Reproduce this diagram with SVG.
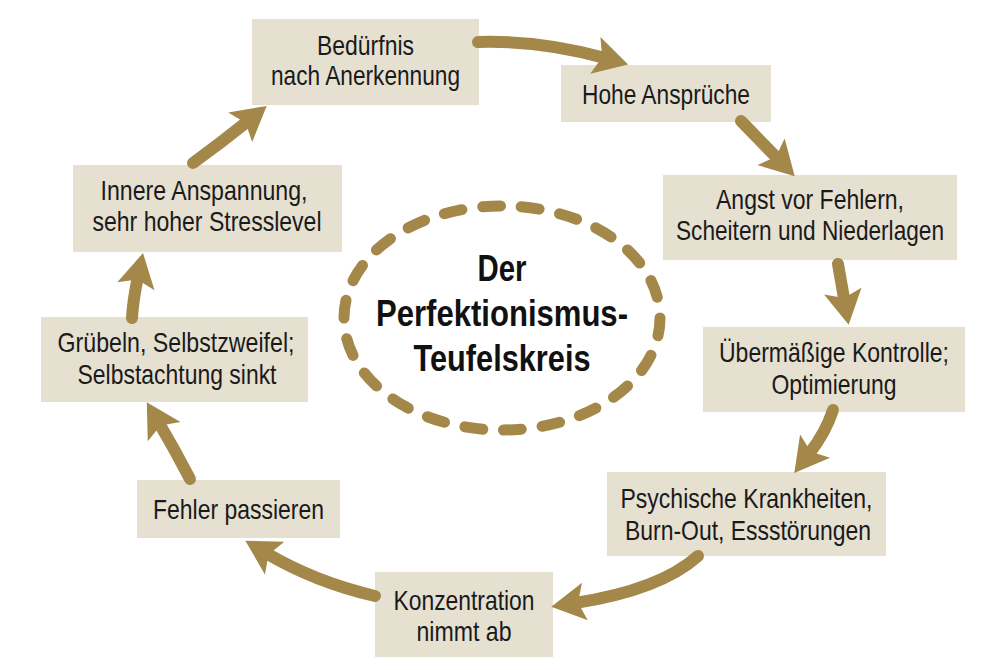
<svg xmlns="http://www.w3.org/2000/svg" width="1000" height="670" viewBox="0 0 1000 670">
<style>
.box{fill:#e6e0d1}
.t{font-family:"Liberation Sans Narrow","Liberation Sans",Arial,sans-serif;font-size:28px;fill:#1a1a1a;text-anchor:middle}
.title{font-family:"Liberation Sans Narrow","Liberation Sans",Arial,sans-serif;font-size:37px;font-weight:bold;fill:#111;text-anchor:middle}
.arr{fill:none;stroke:#a3884a;stroke-width:12;stroke-linecap:round;marker-end:url(#head)}
</style>
<defs>
<marker id="head" markerUnits="userSpaceOnUse" viewBox="-36 -21 38 42" markerWidth="38" markerHeight="42" refX="-24" refY="0" orient="auto" overflow="visible">
<path d="M0,0 L-34,-19 L-27,0 L-34,19 Z" fill="#a3884a"/>
</marker>
</defs>
<rect width="1000" height="670" fill="#fff"/>

<g id="center">
<ellipse cx="502" cy="318" rx="158" ry="112" fill="none" stroke="#a3884a" stroke-width="11" stroke-linecap="round" pathLength="1000" stroke-dasharray="21 24.45"/>
<text class="title" x="502" y="281" textLength="49" lengthAdjust="spacingAndGlyphs">Der</text>
<text class="title" x="502" y="326" textLength="252" lengthAdjust="spacingAndGlyphs">Perfektionismus-</text>
<text class="title" x="502" y="371" textLength="177" lengthAdjust="spacingAndGlyphs">Teufelskreis</text>
</g>

<g id="n1">
<rect class="box" x="252" y="19" width="227" height="86"/>
<text class="t" x="365.5" y="55" textLength="97" lengthAdjust="spacingAndGlyphs">Bedürfnis</text>
<text class="t" x="365.5" y="85" textLength="189" lengthAdjust="spacingAndGlyphs">nach Anerkennung</text>
</g>
<g id="n2">
<rect class="box" x="561" y="65" width="210" height="57"/>
<text class="t" x="666" y="103.5" textLength="168" lengthAdjust="spacingAndGlyphs">Hohe Ansprüche</text>
</g>
<g id="n3">
<rect class="box" x="663" y="175" width="294" height="85"/>
<text class="t" x="810" y="209" textLength="188" lengthAdjust="spacingAndGlyphs">Angst vor Fehlern,</text>
<text class="t" x="810" y="240" textLength="268" lengthAdjust="spacingAndGlyphs">Scheitern und Niederlagen</text>
</g>
<g id="n4">
<rect class="box" x="703" y="327" width="262" height="85"/>
<text class="t" x="834" y="362" textLength="230" lengthAdjust="spacingAndGlyphs">Übermäßige Kontrolle;</text>
<text class="t" x="834" y="394" textLength="125" lengthAdjust="spacingAndGlyphs">Optimierung</text>
</g>
<g id="n5">
<rect class="box" x="607" y="472" width="279" height="84"/>
<text class="t" x="746.5" y="508" textLength="252" lengthAdjust="spacingAndGlyphs">Psychische Krankheiten,</text>
<text class="t" x="748" y="540" textLength="246" lengthAdjust="spacingAndGlyphs">Burn-Out, Essstörungen</text>
</g>
<g id="n6">
<rect class="box" x="375" y="572" width="178" height="85"/>
<text class="t" x="464" y="610" textLength="141" lengthAdjust="spacingAndGlyphs">Konzentration</text>
<text class="t" x="464" y="641" textLength="95" lengthAdjust="spacingAndGlyphs">nimmt ab</text>
</g>
<g id="n7">
<rect class="box" x="137" y="480" width="203" height="58"/>
<text class="t" x="238.5" y="519" textLength="171" lengthAdjust="spacingAndGlyphs">Fehler passieren</text>
</g>
<g id="n8">
<rect class="box" x="41" y="317" width="267" height="85"/>
<text class="t" x="176" y="352" textLength="237" lengthAdjust="spacingAndGlyphs">Grübeln, Selbstzweifel;</text>
<text class="t" x="177" y="384" textLength="199" lengthAdjust="spacingAndGlyphs">Selbstachtung sinkt</text>
</g>
<g id="n9">
<rect class="box" x="73" y="165" width="269" height="87"/>
<text class="t" x="204" y="200" textLength="207" lengthAdjust="spacingAndGlyphs">Innere Anspannung,</text>
<text class="t" x="207" y="231" textLength="229" lengthAdjust="spacingAndGlyphs">sehr hoher Stresslevel</text>
</g>

<g id="connectors">
<path class="arr" d="M478,42 Q540,40 605,58"/>
<path class="arr" d="M741,121 L778,159"/>
<path class="arr" d="M838,264 L844.5,301"/>
<path class="arr" d="M833,410 Q826,432 809,454"/>
<path class="arr" d="M698,556 Q660,590 575,603"/>
<path class="arr" d="M375,596 Q315,582 266,553"/>
<path class="arr" d="M190,479 Q175,450 159,423"/>
<path class="arr" d="M132,318 Q133,300 138,276.5"/>
<path class="arr" d="M193,163 Q222,142 248,121"/>
</g>
</svg>
